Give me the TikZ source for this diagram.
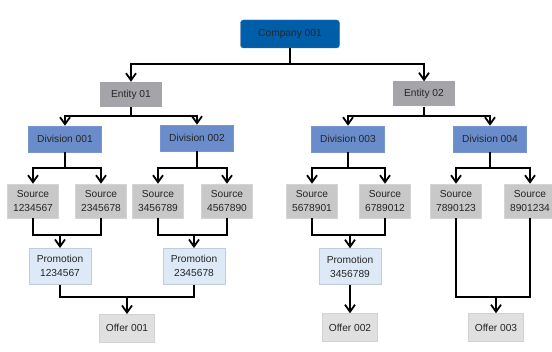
\documentclass[tikz,border=0pt]{standalone}
\usepackage{fontspec}
\setmainfont{Liberation Sans}
\usetikzlibrary{arrows.meta}
\definecolor{compblue}{RGB}{0,94,168}
\definecolor{compedge}{RGB}{40,110,180}
\definecolor{entgray}{RGB}{165,165,169}
\definecolor{divblue}{RGB}{106,140,202}
\definecolor{divedge}{RGB}{120,150,205}
\definecolor{srcgray}{RGB}{200,200,200}
\definecolor{srcedge}{RGB}{212,212,212}
\definecolor{promofill}{RGB}{221,233,246}
\definecolor{promoedge}{RGB}{192,204,216}
\definecolor{offerfill}{RGB}{224,224,224}
\definecolor{offeredge}{RGB}{210,210,210}
\tikzset{
  box/.style={inner sep=0pt, align=center, font=\fontsize{10.2pt}{14pt}\selectfont, text=black!85},
  compbox/.style={box, fill=compblue, draw=compedge, rounded corners=3pt, minimum width=99pt, minimum height=28pt},
  entbox/.style={box, fill=entgray, minimum width=62pt, minimum height=25pt},
  divbox/.style={box, fill=divblue, draw=divedge, line width=0.5pt, minimum width=73pt, minimum height=26pt},
  srcbox/.style={box, fill=srcgray, draw=srcedge, line width=0.5pt, minimum width=51pt, minimum height=34pt},
  promobox/.style={box, fill=promofill, draw=promoedge, line width=0.5pt, minimum width=62pt, minimum height=36pt},
  offerbox/.style={box, fill=offerfill, draw=offeredge, line width=0.5pt, minimum width=55pt, minimum height=28pt},
  link/.style={draw=black, line width=2pt},
  arr/.style={link, -{Straight Barb[length=7pt,width=10pt,line width=1.8pt]}}
}
\begin{document}
\begin{tikzpicture}[x=1pt,y=-1pt]
\useasboundingbox[fill=white] (0,0) rectangle (552,352);
% nodes
\node[compbox] (c) at (290,34) {Company 001};
\node[entbox] (e1) at (131,94.5) {Entity 01};
\node[entbox] (e2) at (424,94) {Entity 02};
\node[divbox] (d1) at (65,139) {Division 001};
\node[divbox] (d2) at (197,138) {Division 002};
\node[divbox] (d3) at (348,139) {Division 003};
\node[divbox] (d4) at (490,139) {Division 004};
\node[srcbox] (s1) at (33,201) {Source\\1234567};
\node[srcbox] (s2) at (101,201) {Source\\2345678};
\node[srcbox] (s3) at (158,201) {Source\\3456789};
\node[srcbox] (s4) at (227,201) {Source\\4567890};
\node[srcbox] (s5) at (312,201) {Source\\5678901};
\node[srcbox] (s6) at (385,201) {Source\\6789012};
\node[srcbox] (s7) at (456,201) {Source\\7890123};
\node[srcbox] (s8) at (530,201) {Source\\8901234};
\node[promobox] (p1) at (60,266.3) {Promotion\\1234567};
\node[promobox] (p2) at (194,266.3) {Promotion\\2345678};
\node[promobox] (p3) at (350,266.5) {Promotion\\3456789};
\node[offerbox] (o1) at (127,328.3) {Offer 001};
\node[offerbox] (o2) at (350,327.5) {Offer 002};
\node[offerbox] (o3) at (496,327.5) {Offer 003};
% junction coordinates
\coordinate (jc) at (290,64);
\coordinate (je1) at (131,116);
\coordinate (je2) at (424,116);
\coordinate (jd1) at (65,168);
\coordinate (jd2) at (197,168);
\coordinate (jd3) at (348,168);
\coordinate (jd4) at (490,168);
\coordinate (js12) at (0,235);
\coordinate (jp) at (0,297);
% connectors
\draw[link] (c.south) -- (jc);
\draw[arr] (jc) -| (e1.north);
\draw[arr] (jc) -| (e2.north);
\draw[link] (e1.south) -- (je1);
\draw[arr] (je1) -| (d1.north);
\draw[arr] (je1) -| (d2.north);
\draw[link] (e2.south) -- (je2);
\draw[arr] (je2) -| (d3.north);
\draw[arr] (je2) -| (d4.north);
\draw[link] (d1.south) -- (jd1);
\draw[arr] (jd1) -| (s1.north);
\draw[arr] (jd1) -| (s2.north);
\draw[link] (d2.south) -- (jd2);
\draw[arr] (jd2) -| (s3.north);
\draw[arr] (jd2) -| (s4.north);
\draw[link] (d3.south) -- (jd3);
\draw[arr] (jd3) -| (s5.north);
\draw[arr] (jd3) -| (s6.north);
\draw[link] (d4.south) -- (jd4);
\draw[arr] (jd4) -| (s7.north);
\draw[arr] (jd4) -| (s8.north);
% sources to promotions
\draw[link] (s1.south) -- (s1.south |- js12) -| (s2.south);
\draw[arr] (p1.north |- js12) -- (p1.north);
\draw[link] (s3.south) -- (s3.south |- js12) -| (s4.south);
\draw[arr] (p2.north |- js12) -- (p2.north);
\draw[link] (s5.south) -- (s5.south |- js12) -| (s6.south);
\draw[arr] (p3.north |- js12) -- (p3.north);
% promotions to offers
\draw[link] (p1.south) -- (p1.south |- jp) -| (p2.south);
\draw[arr] (o1.north |- jp) -- (o1.north);
\draw[arr] (p3.south) -- (o2.north);
\draw[link] (s7.south) -- (s7.south |- jp) -| (s8.south);
\draw[arr] (o3.north |- jp) -- (o3.north);
\end{tikzpicture}
\end{document}
